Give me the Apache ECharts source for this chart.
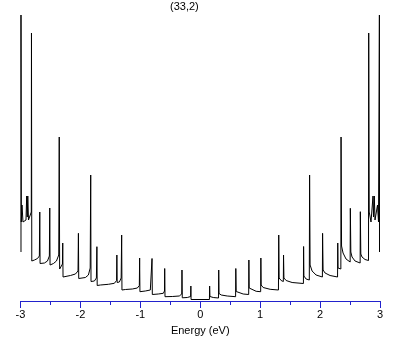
<!DOCTYPE html>
<html>
<head>
<meta charset="utf-8">
<script src="https://cdn.jsdelivr.net/npm/echarts@6/dist/echarts.min.js"></script>
<style>
  html, body { margin: 0; padding: 0; background: #ffffff; }
  #chart { width: 409px; height: 345px; }
</style>
</head>
<body>
<div id="chart"></div>
<script>
// Density of states of the (33,2) nanotube, arbitrary units, versus energy in eV.
// Valence side (E < 0): each van Hove spike is preceded by its rising tail.
var valenceEnergy = [
  -2.9917, -2.9917, -2.9867, -2.975, -2.9583, -2.9333, -2.9083, -2.8967, -2.8867, -2.8783,
  -2.8667, -2.8417, -2.82, -2.8167, -2.8117, -2.7667, -2.7167, -2.685, -2.6783, -2.6733,
  -2.6, -2.55, -2.5183, -2.5117, -2.5067, -2.45, -2.4, -2.3617, -2.3533, -2.3467,
  -2.3167, -2.3, -2.295, -2.29, -2.2667, -2.1667, -2.0833, -2.04, -2.0333, -2.0283,
  -2.0, -1.9167, -1.8667, -1.8367, -1.8283, -1.8233, -1.7667, -1.7333, -1.725, -1.72,
  -1.6667, -1.5333, -1.4333, -1.3967, -1.3917, -1.3867, -1.35, -1.32, -1.3117, -1.3067,
  -1.25, -1.1333, -1.05, -1.0167, -1.0117, -1.0067, -0.9167, -0.8333, -0.8083, -0.805,
  -0.8, -0.7, -0.6167, -0.5967, -0.5933, -0.5883, -0.4667, -0.35, -0.3083, -0.305,
  -0.3, -0.2167, -0.16, -0.1567, -0.1533
];
var valenceDos = [
  4.75, 28.45, 7.75, 9.45, 7.75, 7.55, 7.95, 10.35, 8.25, 10.35,
  7.95, 7.75, 8.75, 26.65, 3.85, 3.95, 4.1, 4.35, 8.75, 3.6,
  3.65, 3.85, 4.35, 9.15, 3.45, 3.6, 3.85, 4.45, 16.25, 3.05,
  3.15, 3.55, 5.65, 2.25, 2.28, 2.4, 2.55, 2.85, 6.62, 2.1,
  2.12, 2.2, 2.45, 3.15, 12.45, 1.8, 1.85, 2.15, 5.28, 1.4,
  1.45, 1.52, 1.62, 1.9, 4.45, 1.7, 1.75, 2.15, 6.45, 0.95,
  1.0, 1.05, 1.15, 1.4, 4.15, 0.78, 0.85, 0.95, 1.15, 4.1,
  0.5, 0.55, 0.62, 0.85, 3.1, 0.28, 0.3, 0.35, 0.55, 2.95,
  0.17, 0.2, 0.3, 1.35, 0
];

// Conduction side (E > 0): each spike is followed by its decaying tail.
var conductionEnergy = [
  0.1533, 0.1567, 0.1617, 0.2167, 0.305, 0.3083, 0.3133, 0.35, 0.45, 0.59,
  0.5933, 0.6, 0.6333, 0.7167, 0.8083, 0.8117, 0.8167, 0.85, 0.9333, 1.0083,
  1.0117, 1.0167, 1.05, 1.1667, 1.305, 1.31, 1.3167, 1.35, 1.3867, 1.39,
  1.3967, 1.4333, 1.5333, 1.7217, 1.725, 1.73, 1.7667, 1.82, 1.825, 1.8333,
  1.8667, 1.9333, 2.0383, 2.0417, 2.05, 2.0833, 2.1667, 2.2917, 2.295, 2.3,
  2.3467, 2.35, 2.3583, 2.3833, 2.4333, 2.5017, 2.505, 2.5133, 2.5333, 2.5833,
  2.6683, 2.6717, 2.68, 2.7, 2.75, 2.8083, 2.8117, 2.82, 2.85, 2.875,
  2.8833, 2.8917, 2.905, 2.9167, 2.9417, 2.9583, 2.975, 2.9883, 2.99, 2.9917
];
var conductionDos = [
  0, 1.35, 0.3, 0.2, 0.15, 2.95, 0.6, 0.45, 0.35, 0.28,
  3.1, 0.8, 0.65, 0.55, 0.5, 3.95, 1.15, 0.95, 0.82, 0.78,
  4.15, 1.45, 1.2, 1.02, 0.95, 6.45, 2.15, 1.9, 1.8, 4.45,
  2.15, 1.9, 1.7, 1.6, 5.3, 2.35, 2.05, 1.95, 12.45, 3.45,
  2.85, 2.45, 2.25, 6.62, 2.95, 2.65, 2.4, 2.25, 5.65, 3.15,
  3.05, 16.25, 5.35, 4.65, 4.05, 3.75, 9.12, 4.75, 4.25, 3.85,
  3.65, 8.78, 4.55, 4.25, 4.0, 3.9, 26.65, 8.75, 7.75, 7.95,
  10.35, 8.25, 10.35, 7.95, 7.75, 9.45, 7.75, 7.55, 28.45, 4.75
];

var chartTitle = '(33,2)';
var axisTitle = 'Energy (eV)';

function pairs(xs, ys) {
  return xs.map(function (x, i) { return [x, ys[i]]; });
}
var dosCurve = pairs(valenceEnergy, valenceDos).concat(pairs(conductionEnergy, conductionDos));

var axisBlue = '#2222cc';
var fontFamily = '"Liberation Sans", Arial, sans-serif';

var chart = echarts.init(document.getElementById('chart'), null, { renderer: 'canvas' });
chart.setOption({
  animation: false,
  backgroundColor: '#ffffff',
  title: {
    text: chartTitle,
    left: 170,
    top: 1,
    padding: 0,
    textStyle: { fontFamily: fontFamily, fontSize: 11, fontWeight: 'normal', color: '#000000' }
  },
  grid: { left: 20.5, right: 29, top: 0, height: 301, containLabel: false },
  xAxis: {
    type: 'value',
    min: -3,
    max: 3,
    interval: 1,
    name: axisTitle,
    nameLocation: 'middle',
    nameGap: 24,
    nameTextStyle: { fontFamily: fontFamily, fontSize: 11, color: '#000000' },
    axisLine: { onZero: false, lineStyle: { color: axisBlue, width: 1 } },
    axisTick: { show: true, length: 7, lineStyle: { color: axisBlue, width: 1 } },
    minorTick: { show: true, splitNumber: 2, length: 4, lineStyle: { color: axisBlue, width: 1 } },
    axisLabel: { margin: 8, fontFamily: fontFamily, fontSize: 11, color: '#000000' },
    splitLine: { show: false },
    minorSplitLine: { show: false }
  },
  yAxis: {
    type: 'value',
    min: -0.15,
    max: 29.95,
    show: false,
    splitLine: { show: false }
  },
  series: [{
    type: 'line',
    data: dosCurve,
    showSymbol: false,
    symbol: 'none',
    smooth: false,
    lineStyle: { color: '#000000', width: 1 },
    emphasis: { disabled: true }
  }]
});
</script>
</body>
</html>
